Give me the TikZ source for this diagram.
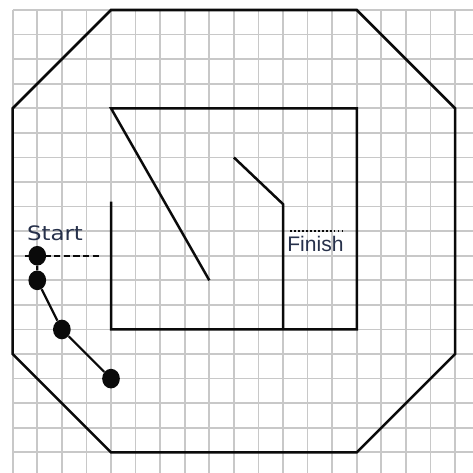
\documentclass[tikz,border=0pt]{standalone}
\usepackage{fontspec}
\usetikzlibrary{shapes.geometric}
\newfontfamily\startfont[FakeStretch=1.15]{DejaVu Sans}
\newfontfamily\finishfont{Liberation Sans}
\definecolor{ink}{HTML}{0A0A0A}
\definecolor{labelink}{HTML}{26304A}
\definecolor{gridgray}{HTML}{C8C8C8}

\begin{document}
\begin{tikzpicture}[
    x=0.5cm,
    y=-0.5cm,
    gridline/.style={draw=gridgray, line width=1pt},
    wall/.style={draw=ink, line width=1.45pt, line join=miter},
    route/.style={draw=ink, line width=1.3pt},
    dot/.style={ellipse, fill=ink, draw=none, minimum width=0.36cm, minimum height=0.40cm, inner sep=0pt},
    tag/.style={text=labelink, inner sep=0pt, anchor=base}
]

% Page and squared paper.
\fill[white] (-0.517,-0.407) rectangle (18.73,18.84);
\useasboundingbox (-0.517,-0.407) rectangle (18.73,18.84);
\foreach \i in {0,...,18} {
    \draw[gridline] (\i,0) -- (\i,18.84);
    \draw[gridline] (0,\i) -- (18.73,\i);
}

% Outer octagon.
\draw[wall] (0,4) -- (4,0) -- (14,0) -- (18,4) -- (18,14) -- (14,18) -- (4,18) -- (0,14) -- cycle;

% Inner walls.
\draw[wall] (4,7.8) -- (4,13) -- (14,13) -- (14,4) -- (4,4) -- (8,11);
\draw[wall] (9,6) -- (11,7.9) -- (11,13);

% Start and finish marks.
\node[tag, font=\startfont\fontsize{11.5}{12}\selectfont] (start) at (1.72,9.36) {Start};
\coordinate (startL) at (0.5,10);
\coordinate (startR) at (3.5,10);
\draw[route, dash pattern=on 3.6pt off 2pt] (startL) -- (startR);

\node[tag, font=\finishfont\fontsize{12.2}{13}\selectfont] (finish) at (12.32,9.84) {Finish};
\coordinate (finishL) at (11.3,9);
\coordinate (finishR) at (13.55,9);
\draw[ink, line width=1pt, dash pattern=on 0.8pt off 1.5pt] (finishL) -- (finishR);

% Path taken.
\node[dot] (p1) at (1,10) {};
\node[dot] (p2) at (1,11) {};
\node[dot] (p3) at (2,13) {};
\node[dot] (p4) at (4,15) {};
\draw[route] (p1) -- (p2) -- (p3) -- (p4);

\end{tikzpicture}
\end{document}
